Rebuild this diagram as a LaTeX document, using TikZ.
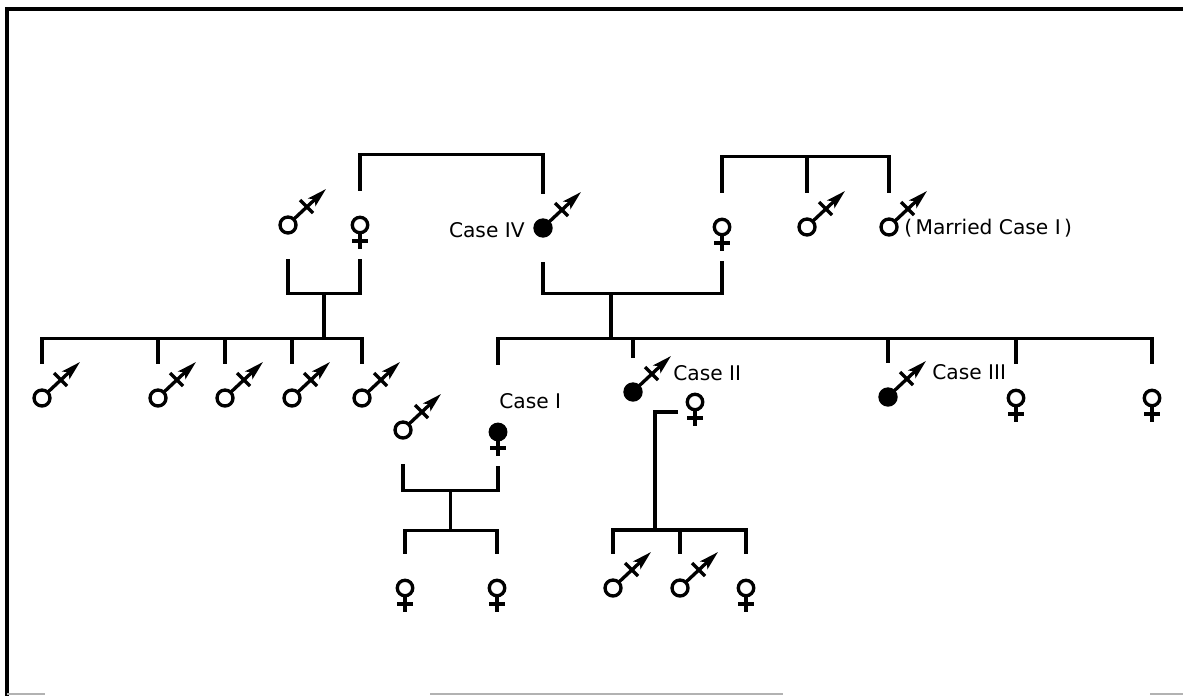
\documentclass[tikz,border=0pt]{standalone}
\usepackage{fontspec}
\newfontfamily\etichetta{DejaVu Sans}
\usepackage{tikz}
\usetikzlibrary{arrows.meta,calc}
\tikzset{
    linea/.style={line width=2pt},
    simbolo/.style={line width=1.9pt},
    ind/.style={inner sep=0pt, minimum width=0.3cm, minimum height=1.36cm},
    caso/.style={font=\etichetta\fontsize{11.5}{13}\selectfont, inner sep=0pt},
    pics/maschio/.style={
        code={
            \draw[simbolo, fill=#1] (0,0) circle (0.16cm);
            \draw[simbolo, -{Stealth[length=11pt,width=6pt,inset=2.5pt]}] (45:0.18cm) -- (38,-36);
            \draw[simbolo] (12,-25) -- (25,-12);
        }
    },
    pics/maschio/.default=white,
    pics/femmina/.style={
        code={
            \draw[simbolo, fill=#1] (0,0) circle (0.155cm);
            \draw[simbolo] (0,8) -- (0,24);
            \draw[simbolo] (-8,16) -- (8,16);
        }
    },
    pics/femmina/.default=white
}

\begin{document}
\begin{tikzpicture}[x=0.02cm, y=-0.02cm]
\useasboundingbox (0,0) rectangle (1183,696);

% Cornice
\draw[linea] (7,696) -- (7,9) -- (1183,9);
\draw[gray!60, line width=1pt] (7,694) -- (45,694);
\draw[gray!60, line width=1pt] (430,694) -- (783,694);
\draw[gray!60, line width=1pt] (1150,694) -- (1183,694);

% Prima generazione
\node[ind] (nonno) at (288,225) {};  \pic at (nonno) {maschio};
\node[ind] (nonna) at (360,225) {};  \pic at (nonna) {femmina};
\node[ind] (caso4) at (543,228) {};  \pic at (caso4) {maschio=black};
\node[ind] (madre) at (722,227) {};  \pic at (madre) {femmina};
\node[ind] (zio) at (807,227) {};    \pic at (zio) {maschio};
\node[ind] (marito) at (889,227) {}; \pic at (marito) {maschio};

\node[caso, anchor=east] (lab4) at (525,230) {Case IV};
\node[caso, anchor=west] (labM) at (904,228) {(\,Married Case I\,)};

% Fratelli in alto
\draw[linea] (nonna.north) -- ++(0,-36) -| (caso4.north);
\draw[linea] (madre.north) -- ++(0,-36) coordinate (cB) -| (marito.north);
\draw[linea] (zio.north) -- (zio.north |- cB);

% Coppia a sinistra
\draw[linea] (nonno.south) -- ++(0,34) -| (nonna.south) coordinate[pos=0.25] (nA);
\draw[linea] (nA) -- ++(0,45) coordinate (sA);

\node[ind] (f1) at (42,398) {};  \pic at (f1) {maschio};
\node[ind] (f2) at (158,398) {}; \pic at (f2) {maschio};
\node[ind] (f3) at (225,398) {}; \pic at (f3) {maschio};
\node[ind] (f4) at (292,398) {}; \pic at (f4) {maschio};
\node[ind] (f5) at (362,398) {}; \pic at (f5) {maschio};

\draw[linea] (f1.north) |- (sA) -| (f5.north);
\draw[linea] (f2.north) -- (f2.north |- sA);
\draw[linea] (f3.north) -- (f3.north |- sA);
\draw[linea] (f4.north) -- (f4.north |- sA);

% Coppia centrale
\draw[linea] (caso4.south) -- ++(0,31) -| (madre.south) coordinate[pos=0.19] (nB);
\draw[linea] (nB) -- ++(0,45) coordinate (sB);

\node[ind] (caso1) at (498,432) {}; \pic at (caso1) {femmina=black};
\node[ind] (caso2) at (633,392) {}; \pic at (caso2) {maschio=black};
\node[ind] (caso3) at (888,397) {}; \pic at (caso3) {maschio=black};
\node[ind] (sor1) at (1016,398) {}; \pic at (sor1) {femmina};
\node[ind] (sor2) at (1152,398) {}; \pic at (sor2) {femmina};

\node[caso, anchor=west] (lab1) at (499,401) {Case I};
\node[caso, anchor=west] (lab2) at (673,373) {Case II};
\node[caso, anchor=west] (lab3) at (932,372) {Case III};

\draw[linea] ($(caso1.north)+(0,-33)$) |- (sB) -| (sor2.north);
\draw[linea] (caso2.north) -- (caso2.north |- sB);
\draw[linea] (caso3.north) -- (caso3.north |- sB);
\draw[linea] (sor1.north) -- (sor1.north |- sB);

% Coppia del Caso I
\node[ind] (sposo1) at (403,430) {}; \pic at (sposo1) {maschio};
\draw[linea] (sposo1.south) -- ++(0,26) -| (caso1.south) coordinate[pos=0.25] (nC);
\draw[linea] (nC) -- ++(0,40) coordinate (sC);

\node[ind] (fC1) at (405,588) {}; \pic at (fC1) {femmina};
\node[ind] (fC2) at (497,588) {}; \pic at (fC2) {femmina};
\draw[linea] (fC1.north) |- (sC) -| (fC2.north);

% Coppia del Caso II
\node[ind] (sposa2) at (695,402) {}; \pic at (sposa2) {femmina};
\draw[linea] ($(sposa2)+(-17,10)$) -| ++(-23,118) coordinate (sD);

\node[ind] (gD1) at (613,588) {}; \pic at (gD1) {maschio};
\node[ind] (gD2) at (680,588) {}; \pic at (gD2) {maschio};
\node[ind] (gD3) at (746,588) {}; \pic at (gD3) {femmina};
\draw[linea] (gD1.north) |- (sD) -| (gD3.north);
\draw[linea] (gD2.north) -- (gD2.north |- sD);

\end{tikzpicture}
\end{document}
